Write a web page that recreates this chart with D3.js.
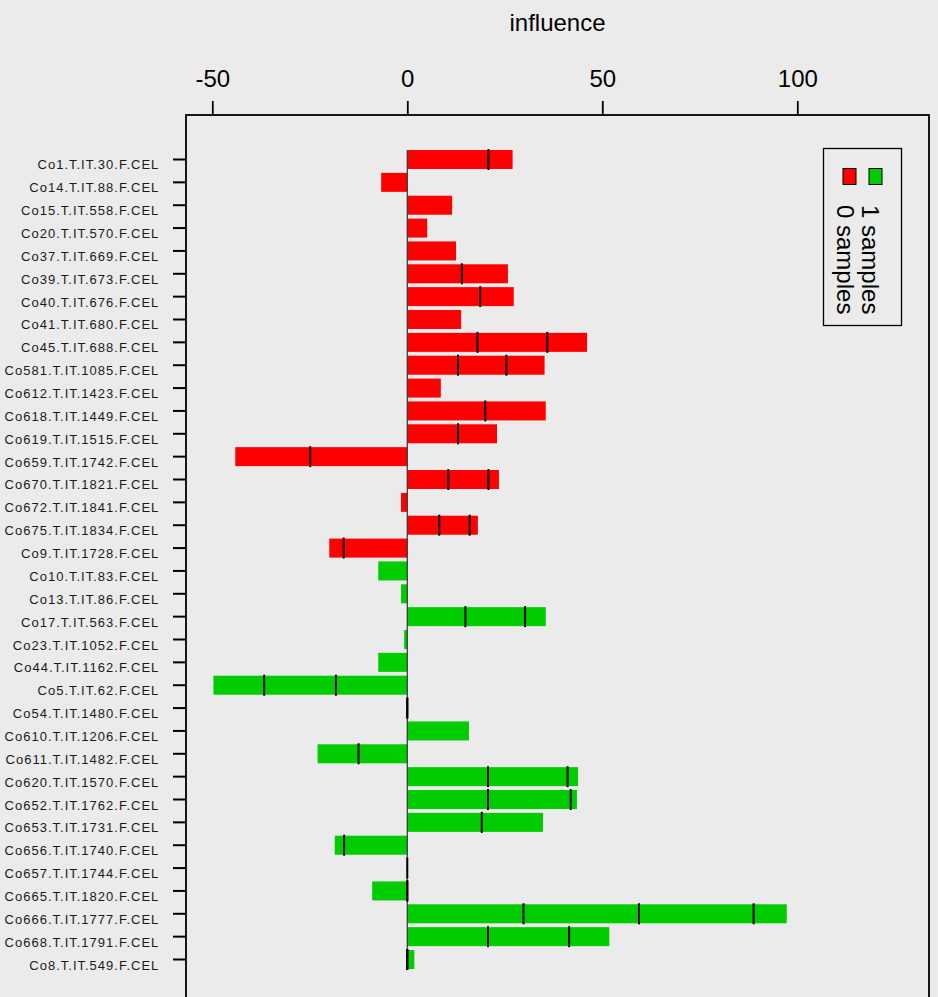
<!DOCTYPE html>
<html>
<head>
<meta charset="utf-8">
<script src="https://cdn.jsdelivr.net/npm/d3@7/dist/d3.min.js"></script>
<style>
  html, body { margin: 0; padding: 0; background: #EBEBEB; }
  svg { display: block; font-family: "Liberation Sans", Arial, Helvetica, sans-serif; }
</style>
</head>
<body>
<svg id="chart" width="938" height="997"></svg>
<script>
// ---- data ----
const samples = [
  "Co1.T.IT.30.F.CEL","Co14.T.IT.88.F.CEL","Co15.T.IT.558.F.CEL","Co20.T.IT.570.F.CEL",
  "Co37.T.IT.669.F.CEL","Co39.T.IT.673.F.CEL","Co40.T.IT.676.F.CEL","Co41.T.IT.680.F.CEL",
  "Co45.T.IT.688.F.CEL","Co581.T.IT.1085.F.CEL","Co612.T.IT.1423.F.CEL","Co618.T.IT.1449.F.CEL",
  "Co619.T.IT.1515.F.CEL","Co659.T.IT.1742.F.CEL","Co670.T.IT.1821.F.CEL","Co672.T.IT.1841.F.CEL",
  "Co675.T.IT.1834.F.CEL","Co9.T.IT.1728.F.CEL",
  "Co10.T.IT.83.F.CEL","Co13.T.IT.86.F.CEL","Co17.T.IT.563.F.CEL","Co23.T.IT.1052.F.CEL",
  "Co44.T.IT.1162.F.CEL","Co5.T.IT.62.F.CEL","Co54.T.IT.1480.F.CEL","Co610.T.IT.1206.F.CEL",
  "Co611.T.IT.1482.F.CEL","Co620.T.IT.1570.F.CEL","Co652.T.IT.1762.F.CEL","Co653.T.IT.1731.F.CEL",
  "Co656.T.IT.1740.F.CEL","Co657.T.IT.1744.F.CEL","Co665.T.IT.1820.F.CEL","Co666.T.IT.1777.F.CEL",
  "Co668.T.IT.1791.F.CEL","Co8.T.IT.549.F.CEL"
];
// group: 0 samples (red) / 1 samples (green)
const groups = [
  0,0,0,0,0,0,0,0,0,0,0,0,0,0,0,0,0,0,
  1,1,1,1,1,1,1,1,1,1,1,1,1,1,1,1,1,1
];
// individual influence contributions per sample, stacked from 0 outward
const contributions = [
  [20.8, 6.2], [-6.7], [11.5], [5.1],
  [12.5], [14.0, 11.8], [18.7, 8.6], [13.8],
  [18.0, 17.9, 10.2], [13.0, 12.4, 9.8], [8.6], [20.0, 15.5],
  [13.0, 10.0], [-24.9, -19.2], [10.5, 10.3, 2.7], [-1.6],
  [8.2, 7.8, 2.1], [-16.3, -3.7],
  [-7.45], [-1.6], [14.9, 15.3, 5.3], [-0.8],
  [-7.45], [-18.3, -18.4, -13.0], [0, 0.15], [15.8],
  [-12.5, -10.5], [20.7, 20.4, 2.7], [20.7, 21.2, 1.6], [19.1, 15.7],
  [-16.2, -2.4], [0], [0, -9.0], [29.8, 29.6, 29.4, 8.5],
  [20.7, 20.8, 10.3], [0, 1.8]
];
const xTicks = [-50, 0, 50, 100];
const groupLabels = ["0 samples", "1 samples"];
const groupColors = ["#FF0000", "#00CC00"];
const axisTitle = "influence";

// ---- layout ----
const svg = d3.select("#chart");
const W = 938, H = 997;
const box = { left: 186, right: 929, top: 115, bottom: 1010 };

svg.append("rect").attr("x", 0).attr("y", 0).attr("width", W).attr("height", H).attr("fill", "#EBEBEB");

const x = d3.scaleLinear().domain([-56.74, 133.77]).range([box.left, box.right]);
const y = d3.scaleBand().domain(samples).range([148.07, 970.93]).paddingInner(0.169).paddingOuter(0.0845);
const bw = y.bandwidth();

// build rows: total and cumulative cut points between segments
const rows = samples.map((s, i) => {
  const segs = contributions[i];
  const cuts = [];
  let cum = 0;
  segs.forEach((c, k) => {
    cum += c;
    if (k < segs.length - 1) cuts.push(cum);
  });
  if (segs[0] === 0) cuts.push(0);
  return { name: s, group: groups[i], total: cum, cuts };
});

// bars
svg.append("g").selectAll("rect").data(rows).join("rect")
  .attr("x", d => x(Math.min(0, d.total)))
  .attr("y", d => y(d.name))
  .attr("width", d => Math.abs(x(d.total) - x(0)))
  .attr("height", bw)
  .attr("fill", d => groupColors[d.group]);

// zero reference line
svg.append("line")
  .attr("x1", x(0)).attr("x2", x(0))
  .attr("y1", y(samples[0])).attr("y2", y(samples[samples.length - 1]) + bw)
  .attr("stroke", "#333").attr("stroke-width", 1.2);

// segment boundary marks
const marks = [];
rows.forEach(r => r.cuts.forEach(v => marks.push({ name: r.name, v })));
svg.append("g").selectAll("line").data(marks).join("line")
  .attr("x1", d => x(d.v)).attr("x2", d => x(d.v))
  .attr("y1", d => y(d.name) - 1).attr("y2", d => y(d.name) + bw + 1)
  .attr("stroke", "#000").attr("stroke-width", 2);

// box
svg.append("rect")
  .attr("x", box.left).attr("y", box.top)
  .attr("width", box.right - box.left).attr("height", box.bottom - box.top)
  .attr("fill", "none").attr("stroke", "#000").attr("stroke-width", 1.8);

// top axis
const xAxis = d3.axisTop(x).tickValues(xTicks).tickSize(14).tickPadding(14).tickFormat(d3.format("d"));
const gx = svg.append("g").attr("transform", `translate(0,${box.top})`).call(xAxis);
gx.select(".domain").remove();
gx.selectAll(".tick line").attr("stroke", "#000").attr("stroke-width", 1.8);
gx.selectAll(".tick text").attr("font-size", 24).attr("fill", "#000")
  .attr("font-family", "Liberation Sans, Arial, sans-serif")
  .text(d => d < 0 ? "-" + Math.abs(d) : d);

// left axis
const yAxis = d3.axisLeft(y).tickSize(13).tickPadding(14);
const gy = svg.append("g").attr("transform", `translate(${box.left},0)`).call(yAxis);
gy.select(".domain").remove();
gy.selectAll(".tick line").attr("stroke", "#000").attr("stroke-width", 2);
gy.selectAll(".tick text").attr("font-size", 13).attr("fill", "#1a1a1a")
  .attr("font-family", "Liberation Sans, Arial, sans-serif")
  .attr("letter-spacing", "1px")
  .attr("x", -26.7)
  .attr("dy", "10px").attr("y", 0);

// title
svg.append("text")
  .attr("x", (box.left + box.right) / 2).attr("y", 31)
  .attr("text-anchor", "middle").attr("font-size", 24).attr("fill", "#000")
  .text(axisTitle);

// legend
const lg = svg.append("g");
lg.append("rect").attr("x", 823.5).attr("y", 148.5).attr("width", 78).attr("height", 177)
  .attr("fill", "#EBEBEB").attr("stroke", "#000").attr("stroke-width", 1.3);
const legendX = [843, 869];
const legendTextX = [837, 862];
groupLabels.forEach((lab, i) => {
  lg.append("rect").attr("x", legendX[i]).attr("y", 168.5).attr("width", 13).attr("height", 16)
    .attr("fill", groupColors[i]).attr("stroke", "#000").attr("stroke-width", 1);
  lg.append("text")
    .attr("transform", `translate(${legendTextX[i]},205) rotate(90)`)
    .attr("font-size", 24).attr("fill", "#000")
    .text(lab);
});
</script>
</body>
</html>
